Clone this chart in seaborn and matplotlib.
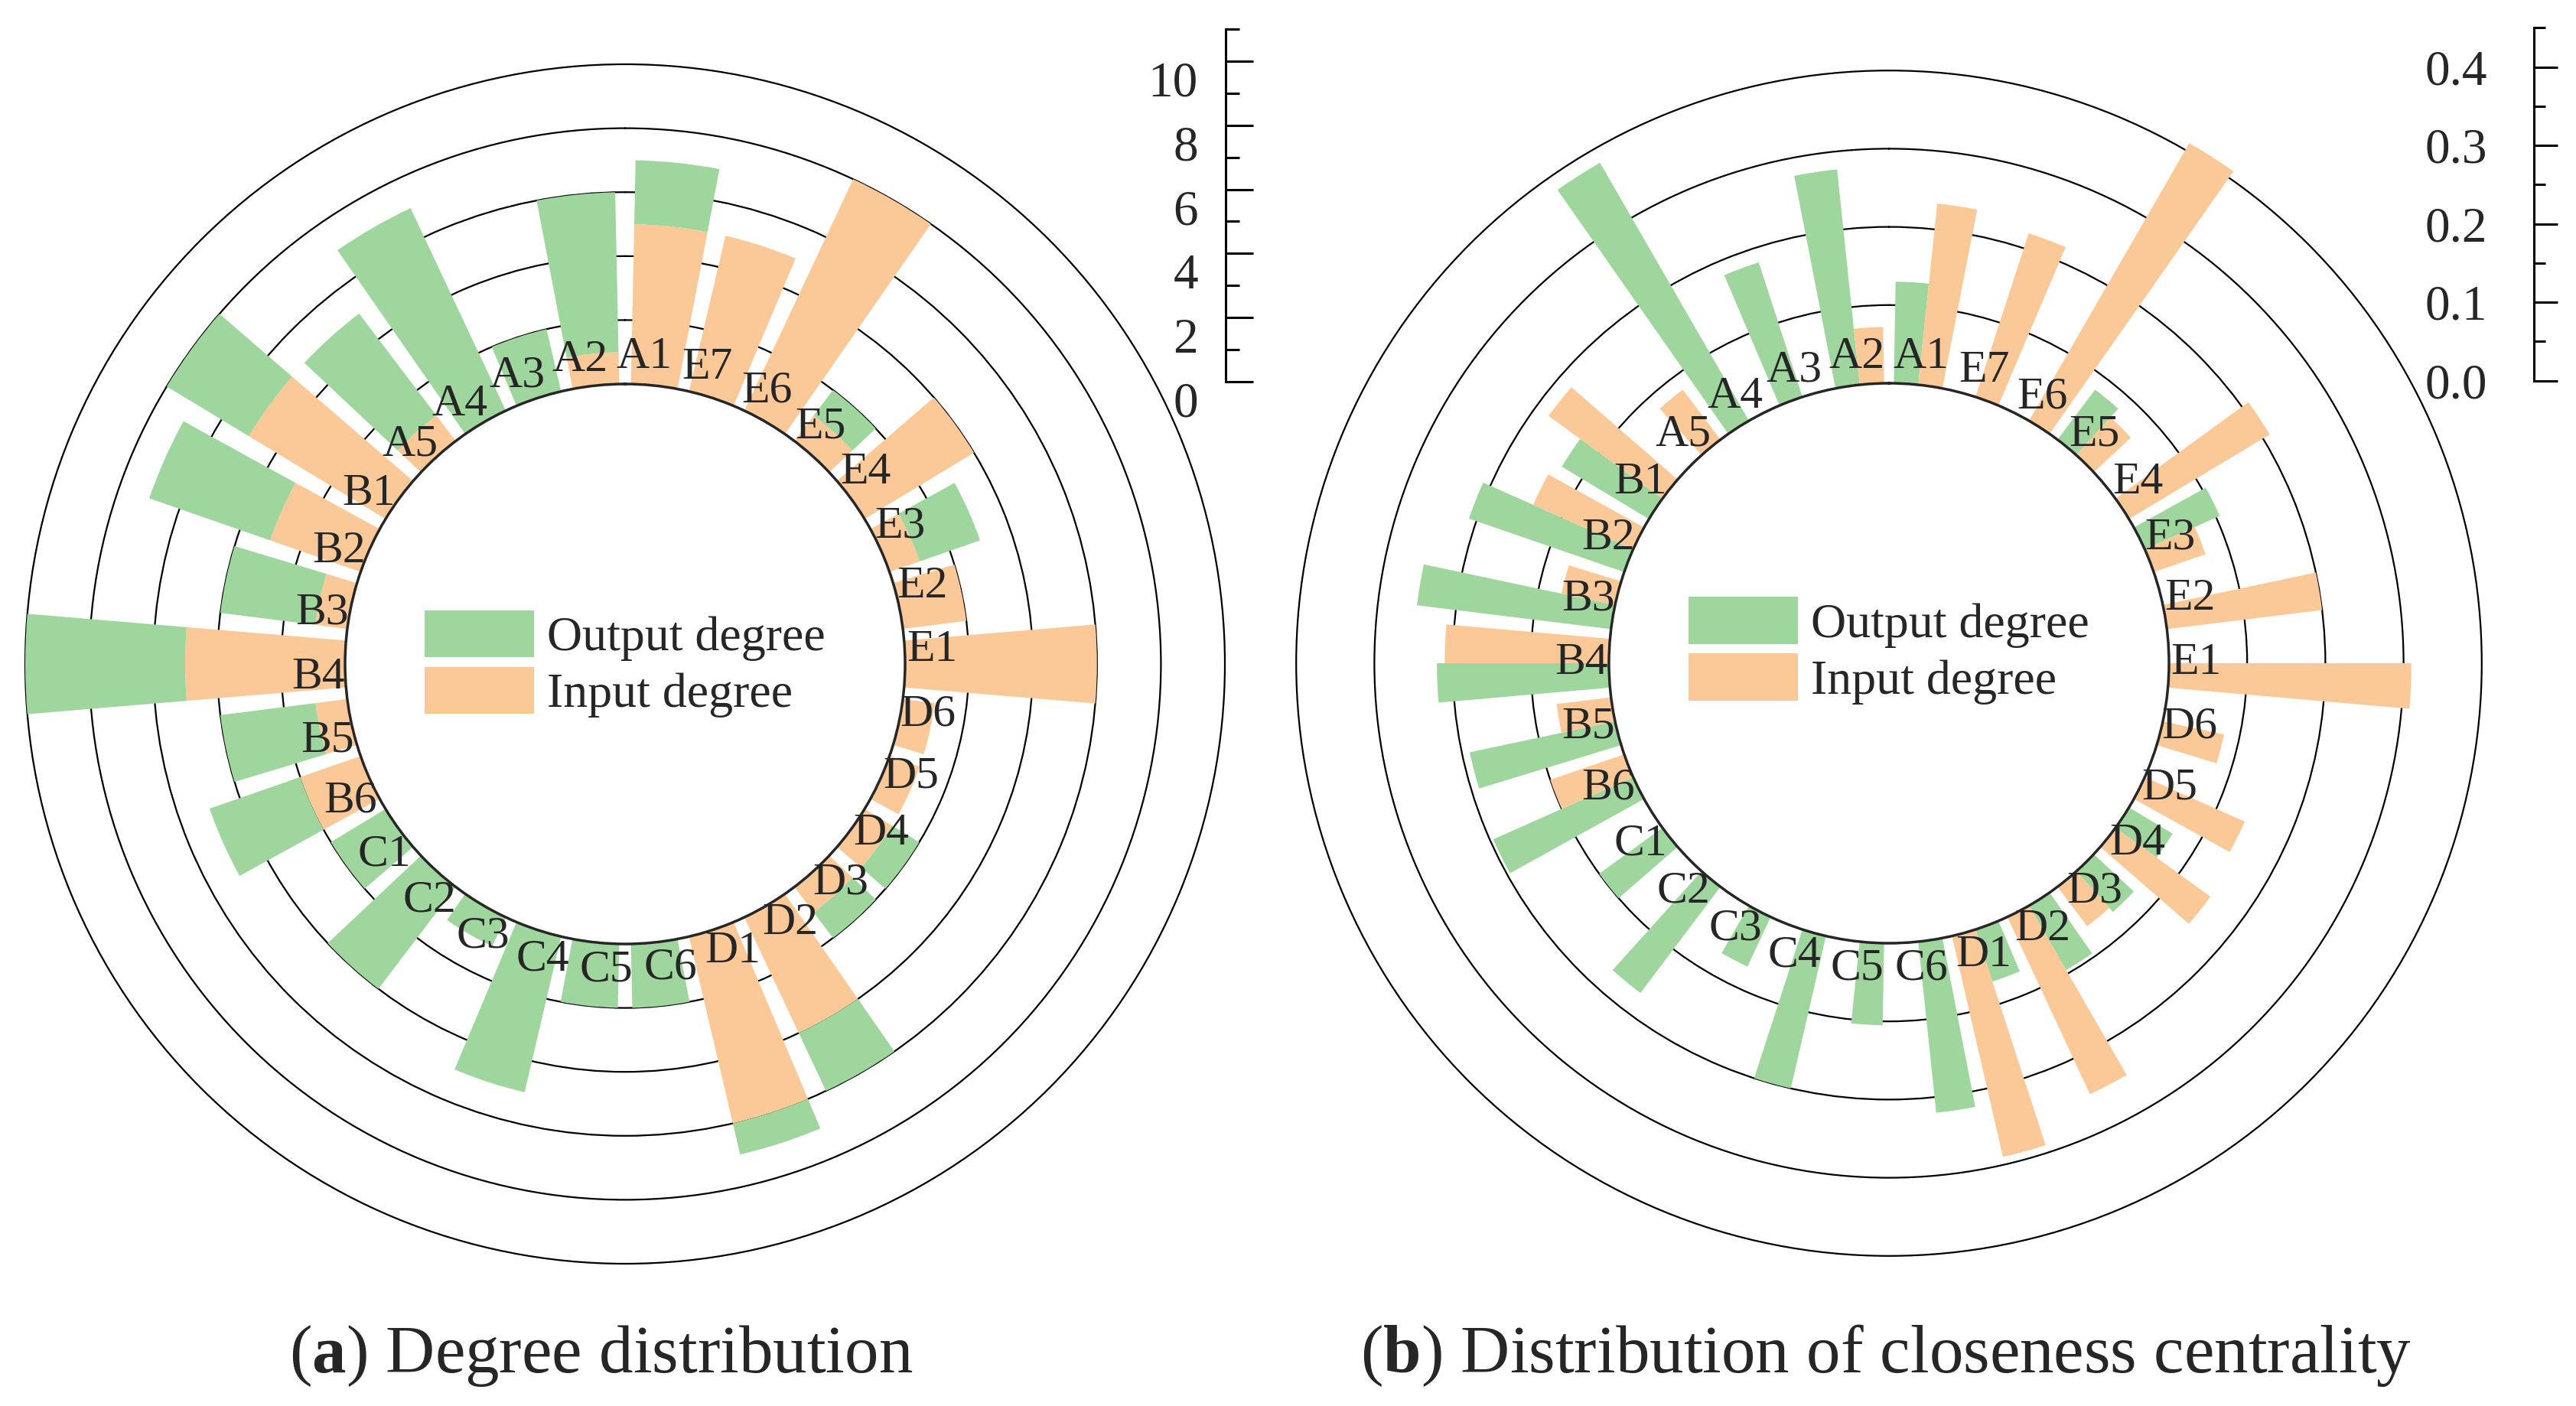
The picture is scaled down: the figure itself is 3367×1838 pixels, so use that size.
import numpy as np
import matplotlib
matplotlib.use("Agg")
import matplotlib.pyplot as plt
import matplotlib.transforms as mtransforms
import seaborn as sns

# ---- data ----
nodes = ["A1", "A2", "A3", "A4", "A5",
         "B1", "B2", "B3", "B4", "B5", "B6",
         "C1", "C2", "C3", "C4", "C5", "C6",
         "D1", "D2", "D3", "D4", "D5", "D6",
         "E1", "E2", "E3", "E4", "E5", "E6", "E7"]

deg_in = [5, 1, 0, 0, 1,
          5, 3, 1, 5, 1, 2,
          0, 0, 0, 0, 0, 0,
          6, 4, 1, 1, 1, 1,
          6, 2, 1, 4, 1, 8, 5]
deg_out = [2, 5, 2, 7, 4,
           3, 4, 3, 5, 3, 3,
           2, 4, 1, 5, 2, 2,
           1, 2, 1, 1, 0, 0,
           0, 0, 2, 0, 1, 0, 0]

clo_out = [0.13, 0.277, 0.181, 0.381, 0.0,
           0.13, 0.21, 0.25, 0.22, 0.19, 0.196,
           0.10, 0.17, 0.07, 0.20, 0.105, 0.22,
           0.07, 0.095, 0.07, 0.065, 0.0, 0.0,
           0.0, 0.0, 0.105, 0.0, 0.08, 0.0, 0.0]
clo_in = [0.233, 0.072, 0.0, 0.0, 0.08,
          0.18, 0.14, 0.07, 0.21, 0.07, 0.10,
          0.0, 0.0, 0.0, 0.0, 0.0, 0.0,
          0.29, 0.25, 0.063, 0.15, 0.14, 0.08,
          0.31, 0.20, 0.07, 0.21, 0.065, 0.41, 0.22]

deg_ticks = [0, 2, 4, 6, 8, 10]
clo_ticks = [0.0, 0.1, 0.2, 0.3, 0.4]
clo_ticklabels = ["0.0", "0.1", "0.2", "0.3", "0.4"]

sns.set_theme(style="white")
plt.rcParams["font.family"] = ["Liberation Serif", "DejaVu Serif"]
plt.rcParams["mathtext.fontset"] = "custom"
plt.rcParams["mathtext.rm"] = "Liberation Serif"
plt.rcParams["mathtext.bf"] = "Liberation Serif:bold"

green = "#9ed69e"
orange = "#fbc898"

W, H, DPI = 3367, 1838, 200
fig = plt.figure(figsize=(W / DPI, H / DPI), dpi=DPI, facecolor="white")


def box(cx, cy, r):
    return [(cx - r) / W, 1 - (cy + r) / H, 2 * r / W, 2 * r / H]


slot = np.deg2rad(-6 + 12 * np.arange(len(nodes)))
hole = 366


def polar_panel(cx, cy, unit, rmax, ticks):
    R = hole + rmax * unit
    ax = fig.add_axes(box(cx, cy, R), projection="polar")
    ax.set_theta_zero_location("N")
    ax.set_theta_direction(1)
    ax.set_rorigin(-hole / unit)
    ax.set_ylim(0, rmax)
    ax.set_xticks([])
    ax.set_yticks(ticks)
    ax.set_yticklabels([])
    ax.yaxis.grid(True, color="black", linewidth=0.8)
    ax.xaxis.grid(False)
    ax.spines["polar"].set_visible(False)
    ax.set_axisbelow(True)
    ax.patch.set_alpha(0)
    return ax


def radial_scale(x, y0, y1, vmax, major, minor, labels, ln, pad, shift):
    a = fig.add_axes([x / W, 1 - y0 / H, 0.02, (y0 - y1) / H])
    a.patch.set_alpha(0)
    a.set_ylim(0, vmax)
    a.set_xticks([])
    for s in ["top", "right", "bottom"]:
        a.spines[s].set_visible(False)
    a.spines["left"].set_color("black")
    a.spines["left"].set_linewidth(1.1)
    a.set_yticks(major)
    a.set_yticklabels(labels)
    a.set_yticks(minor, minor=True)
    a.tick_params(axis="y", which="major", left=True, direction="in",
                  length=ln, width=1.1, color="black", labelsize=23.5, pad=pad)
    a.tick_params(axis="y", which="minor", left=True, direction="in",
                  length=ln / 2, width=1.1, color="black")
    off = mtransforms.ScaledTranslation(0, -shift / DPI, fig.dpi_scale_trans)
    for t in a.get_yticklabels():
        t.set_transform(t.get_transform() + off)
    return a


# ---- (a) degree distribution ----
ax1 = polar_panel(817, 868, 41.8, 11, deg_ticks)
w1 = np.deg2rad(9.6)
b_in = ax1.bar(slot, deg_in, width=w1, color=orange, linewidth=0, zorder=2)
b_out = ax1.bar(slot, deg_out, width=w1, bottom=deg_in, color=green,
                linewidth=0, zorder=2)
for th, name in zip(slot, nodes):
    ax1.text(th + np.deg2rad(2.5), 0.85, name, ha="center", va="center",
             fontsize=21.5, zorder=5)
ax1.legend([b_out, b_in], ["Output degree", "Input degree"], loc="center",
           bbox_to_anchor=(0.5, 0.5), frameon=False, fontsize=23,
           handlelength=2.24, handleheight=1.1, labelspacing=0.12,
           handletextpad=0.27, borderpad=0, borderaxespad=0)

radial_scale(1602, 499, 38, 11, deg_ticks, [1, 3, 5, 7, 9, 11],
             [str(t) for t in deg_ticks], 13, 13, 23)

# ---- (b) closeness centrality ----
ax2 = polar_panel(2469, 867, 1022, 0.45, clo_ticks)
w2 = np.deg2rad(5)
c_out = ax2.bar(slot + np.deg2rad(2.5), clo_out, width=w2, color=green,
                linewidth=0, zorder=2)
c_in = ax2.bar(slot - np.deg2rad(2.5), clo_in, width=w2, color=orange,
               linewidth=0, zorder=2)
for th, name in zip(slot, nodes):
    ax2.text(th, 0.035, name, ha="center", va="center", fontsize=21.5, zorder=5)
ax2.legend([c_out, c_in], ["Output degree", "Input degree"], loc="center",
           bbox_to_anchor=(0.5, 0.51), frameon=False, fontsize=23,
           handlelength=2.24, handleheight=1.1, labelspacing=0.12,
           handletextpad=0.27, borderpad=0, borderaxespad=0)

radial_scale(3312, 497.5, 36.4, 0.45, clo_ticks,
             [0.05, 0.15, 0.25, 0.35, 0.45], clo_ticklabels, 11, 22, 0)

# ---- captions ----
fig.text(786 / W, 1 - 1794 / H, r"($\mathbf{a}$) Degree distribution",
         ha="center", va="baseline", fontsize=32)
fig.text(2465 / W, 1 - 1794 / H,
         r"($\mathbf{b}$) Distribution of closeness centrality",
         ha="center", va="baseline", fontsize=32)

fig.savefig("out.png", dpi=DPI, facecolor="white")
